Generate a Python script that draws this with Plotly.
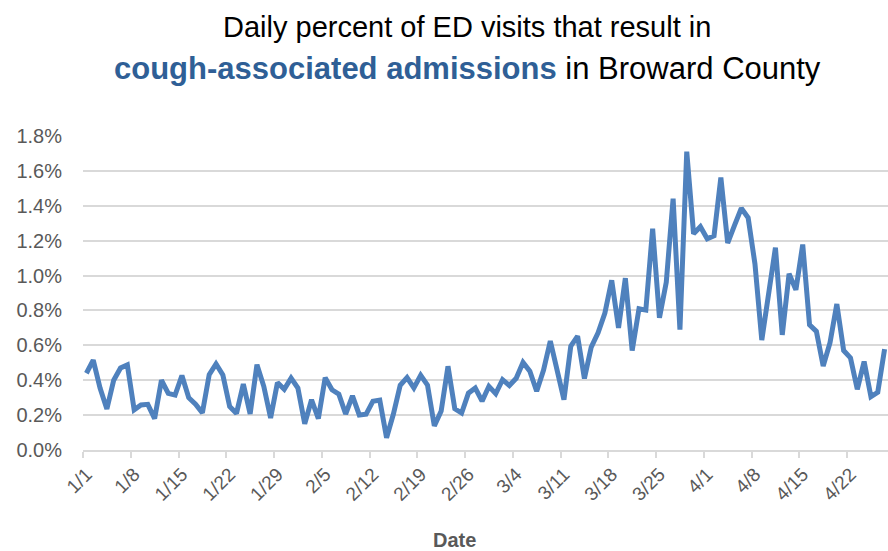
import pandas as pd
import plotly.graph_objects as go

# Daily percent of ED visits resulting in cough-associated admissions (%)
dates = pd.date_range("2020-01-01", periods=118, freq="D")
pct_values = [
    0.44, 0.515, 0.355, 0.235, 0.40, 0.47, 0.488, 0.23, 0.258, 0.262,
    0.18, 0.40, 0.325, 0.315, 0.427, 0.30, 0.262, 0.213, 0.432, 0.493,
    0.43, 0.249, 0.21, 0.378, 0.207, 0.489, 0.365, 0.184, 0.386, 0.348,
    0.412, 0.355, 0.15, 0.288, 0.18, 0.415, 0.345, 0.32, 0.206, 0.31,
    0.201, 0.205, 0.28, 0.286, 0.07, 0.206, 0.371, 0.415, 0.356, 0.428,
    0.372, 0.138, 0.223, 0.48, 0.236, 0.212, 0.326, 0.355, 0.28, 0.365,
    0.323, 0.403, 0.37, 0.411, 0.502, 0.452, 0.337, 0.457, 0.625, 0.46,
    0.289, 0.595, 0.653, 0.41, 0.59, 0.672, 0.785, 0.973, 0.70, 0.985,
    0.57, 0.81, 0.802, 1.268, 0.758, 0.962, 1.441, 0.69, 1.71, 1.24,
    1.28, 1.211, 1.228, 1.562, 1.186, 1.288, 1.386, 1.331, 1.066, 0.63,
    0.90, 1.16, 0.66, 1.01, 0.918, 1.178, 0.717, 0.68, 0.482, 0.615,
    0.837, 0.57, 0.528, 0.348, 0.507, 0.306, 0.331, 0.578,
]
tick_labels = ["1/1", "1/8", "1/15", "1/22", "1/29", "2/5", "2/12", "2/19",
               "2/26", "3/4", "3/11", "3/18", "3/25", "4/1", "4/8", "4/15", "4/22"]
tick_dates = pd.date_range("2020-01-01", periods=len(tick_labels), freq="7D")
y_ticks = [0.0, 0.2, 0.4, 0.6, 0.8, 1.0, 1.2, 1.4, 1.6, 1.8]

GRID = "#D9D9D9"
TXT = "#595959"
TICKFONT = "Liberation Sans Narrow, Arial Narrow, Liberation Sans, Arial, sans-serif"
TITLEFONT = "Liberation Sans, Arial, sans-serif"

W, H = 888, 551
ML, MR, MT, MB = 83, 0, 136, 101
plot_w = W - ML - MR
plot_h = H - MT - MB

fig = go.Figure()
fig.add_trace(go.Scatter(
    x=dates, y=pct_values, mode="lines",
    line=dict(color="#4F81BD", width=5, shape="linear"),
    hoverinfo="x+y",
))

half_day = pd.Timedelta(hours=12)
fig.update_layout(
    width=W, height=H,
    margin=dict(l=ML, r=MR, t=MT, b=MB, autoexpand=False),
    paper_bgcolor="white", plot_bgcolor="white",
    showlegend=False,
    xaxis=dict(
        type="date",
        automargin=False,
        range=[dates[0] - half_day, dates[-1] + half_day],
        tickmode="array",
        tickvals=list(tick_dates),
        ticktext=tick_labels,
        tickangle=-45,
        ticks="outside", ticklen=4, tickcolor="rgba(0,0,0,0)",
        tickfont=dict(family=TICKFONT, size=19, color=TXT),
        showgrid=False,
        showline=True, linecolor=GRID, linewidth=1.5,
        zeroline=False,
        minor=dict(
            tickmode="linear",
            tick0=dates[0] - half_day,
            dtick=7 * 86400000,
            ticks="outside", ticklen=6, tickwidth=1.5, tickcolor=GRID,
            showgrid=False,
        ),
    ),
    yaxis=dict(
        automargin=False,
        range=[0, 1.8],
        tickmode="array",
        tickvals=y_ticks,
        ticktext=[f"{v:.1f}%" for v in y_ticks],
        ticks="outside", ticklen=16, tickcolor="rgba(0,0,0,0)",
        tickfont=dict(family=TICKFONT, size=20, color=TXT),
        showgrid=True, gridcolor=GRID, gridwidth=1.5,
        zeroline=False, showline=False,
    ),
)

title_lines = [
    ("Daily percent of ED visits that result in", 27, 29),
    ("<b><span style='color:#2F5F96'>cough-associated admissions</span></b> in Broward County", 68, 31),
]
for text, ypix, size in title_lines:
    fig.add_annotation(
        text=text, showarrow=False,
        xref="paper", yref="paper",
        x=(467 - ML) / plot_w, y=(H - MB - ypix) / plot_h,
        xanchor="center", yanchor="middle",
        font=dict(family=TITLEFONT, size=size, color="#000000"),
    )

# x-axis title
fig.add_annotation(
    text="<b>Date</b>", showarrow=False,
    xref="paper", yref="paper",
    x=(454 - ML) / plot_w, y=(H - MB - 540) / plot_h,
    xanchor="center", yanchor="middle",
    font=dict(family=TICKFONT, size=20, color=TXT),
)

fig.write_html(
    "out.html",
    config={"displayModeBar": False},
    post_script="document.body.style.margin='0px';document.body.style.overflow='hidden';",
)
